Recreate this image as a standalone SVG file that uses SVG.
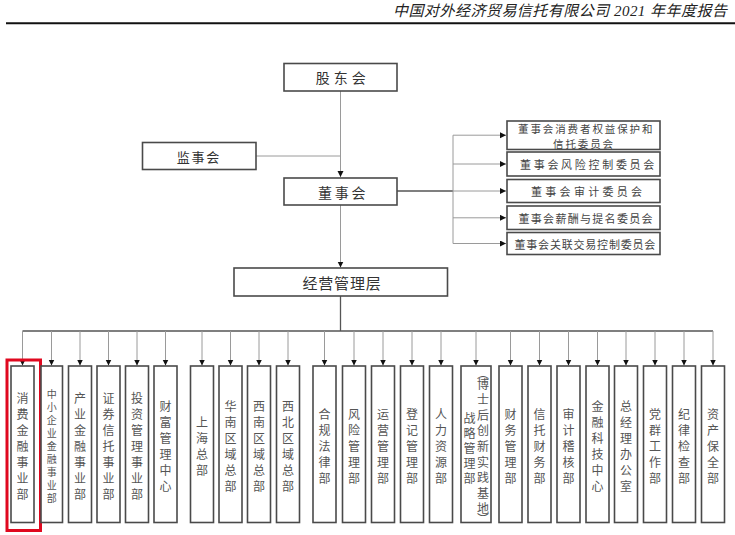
<svg xmlns="http://www.w3.org/2000/svg" width="735" height="535" viewBox="0 0 735 535">
<style>
.bx{fill:#fff;stroke:#4a4a4a;stroke-width:1.6}
.t{font-family:"Noto Sans CJK SC","Noto Sans",sans-serif;fill:#333}
.top{font-size:14px}
.cm{font-size:11px;fill:#444}
.v{font-size:12px;fill:#555;text-anchor:middle;dominant-baseline:central}
.c{fill:none;stroke:#9a9a9a;stroke-width:1}
.cd{fill:none;stroke:#555;stroke-width:1.3}
</style>
<defs>
<marker id="ah" markerUnits="userSpaceOnUse" markerWidth="7" markerHeight="7" refX="6" refY="3" orient="auto">
<path d="M0,0 L6,3 L0,6 z" fill="#111"/>
</marker>
</defs>
<rect width="735" height="535" fill="#fff"/>
<g id="header">
<text x="727" y="15.5" text-anchor="end" font-family="Liberation Serif,'Noto Sans CJK SC',serif" font-style="italic" font-size="15" fill="#222" textLength="334" lengthAdjust="spacing">中国对外经济贸易信托有限公司 2021 年年度报告</text>
<line x1="6" y1="23.3" x2="735" y2="23.3" stroke="#111" stroke-width="2"/>
</g>
<g id="connectors">
<line class="c" x1="340.5" y1="91" x2="340.5" y2="177" marker-end="url(#ah)"/>
<line class="c" x1="256" y1="156" x2="340.5" y2="156"/>
<line class="c" x1="340.5" y1="205" x2="340.5" y2="267.5" marker-end="url(#ah)"/>
<line class="cd" x1="397" y1="191" x2="453" y2="191"/>
<line class="c" x1="453" y1="135.2" x2="453" y2="243.5"/>
<line class="c" x1="453" y1="135.2" x2="506" y2="135.2" marker-end="url(#ah)"/>
<line class="c" x1="453" y1="164" x2="506" y2="164" marker-end="url(#ah)"/>
<line class="c" x1="453" y1="191" x2="506" y2="191" marker-end="url(#ah)"/>
<line class="c" x1="453" y1="217.8" x2="506" y2="217.8" marker-end="url(#ah)"/>
<line class="c" x1="453" y1="243.5" x2="506" y2="243.5" marker-end="url(#ah)"/>
<line class="cd" x1="340.5" y1="296" x2="340.5" y2="331"/>
<line class="cd" x1="22.5" y1="331" x2="713" y2="331"/>
<g id="drops">
<line class="c" x1="22.5" y1="331" x2="22.5" y2="365.5" marker-end="url(#ah)"/>
<line class="c" x1="51.5" y1="331" x2="51.5" y2="365.5" marker-end="url(#ah)"/>
<line class="c" x1="80" y1="331" x2="80" y2="365.5" marker-end="url(#ah)"/>
<line class="c" x1="108.5" y1="331" x2="108.5" y2="365.5" marker-end="url(#ah)"/>
<line class="c" x1="137" y1="331" x2="137" y2="365.5" marker-end="url(#ah)"/>
<line class="c" x1="165.5" y1="331" x2="165.5" y2="365.5" marker-end="url(#ah)"/>
<line class="c" x1="202" y1="331" x2="202" y2="365.5" marker-end="url(#ah)"/>
<line class="c" x1="230.5" y1="331" x2="230.5" y2="365.5" marker-end="url(#ah)"/>
<line class="c" x1="259" y1="331" x2="259" y2="365.5" marker-end="url(#ah)"/>
<line class="c" x1="288" y1="331" x2="288" y2="365.5" marker-end="url(#ah)"/>
<line class="c" x1="324.5" y1="331" x2="324.5" y2="365.5" marker-end="url(#ah)"/>
<line class="c" x1="354" y1="331" x2="354" y2="365.5" marker-end="url(#ah)"/>
<line class="c" x1="383" y1="331" x2="383" y2="365.5" marker-end="url(#ah)"/>
<line class="c" x1="412" y1="331" x2="412" y2="365.5" marker-end="url(#ah)"/>
<line class="c" x1="441" y1="331" x2="441" y2="365.5" marker-end="url(#ah)"/>
<line class="c" x1="476" y1="331" x2="476" y2="365.5" marker-end="url(#ah)"/>
<line class="c" x1="510.5" y1="331" x2="510.5" y2="365.5" marker-end="url(#ah)"/>
<line class="c" x1="539.5" y1="331" x2="539.5" y2="365.5" marker-end="url(#ah)"/>
<line class="c" x1="568.5" y1="331" x2="568.5" y2="365.5" marker-end="url(#ah)"/>
<line class="c" x1="597.5" y1="331" x2="597.5" y2="365.5" marker-end="url(#ah)"/>
<line class="c" x1="626" y1="331" x2="626" y2="365.5" marker-end="url(#ah)"/>
<line class="c" x1="655" y1="331" x2="655" y2="365.5" marker-end="url(#ah)"/>
<line class="c" x1="684" y1="331" x2="684" y2="365.5" marker-end="url(#ah)"/>
<line class="c" x1="713" y1="331" x2="713" y2="365.5" marker-end="url(#ah)"/>
</g>
</g>
<g id="gudonghui"><rect class="bx" x="284" y="63.5" width="113" height="27.5"/><text class="t top" x="315.7" y="77" dominant-baseline="central" letter-spacing="4">股东会</text></g>
<g id="jianshihui"><rect class="bx" x="142.5" y="142.5" width="113.5" height="27"/><text class="t" font-size="13" x="176.8" y="156" dominant-baseline="central" letter-spacing="1.7">监事会</text></g>
<g id="dongshihui"><rect class="bx" x="284" y="178" width="113" height="27"/><text class="t top" x="318" y="191.5" dominant-baseline="central" letter-spacing="2.7">董事会</text></g>
<g id="com1"><rect class="bx" x="507" y="121" width="153" height="28.5"/><text class="t cm" style="font-size:10.5px" x="518" y="128" dominant-baseline="central" letter-spacing="1.9">董事会消费者权益保护和</text><text class="t cm" style="font-size:10.5px" x="553" y="143" dominant-baseline="central" letter-spacing="1.9">信托委员会</text></g>
<g id="com2"><rect class="bx" x="507" y="152" width="153" height="24"/><text class="t cm" x="520" y="164" dominant-baseline="central" letter-spacing="2.7">董事会风险控制委员会</text></g>
<g id="com3"><rect class="bx" x="507" y="179.5" width="153" height="23"/><text class="t cm" x="531" y="191" dominant-baseline="central" letter-spacing="3.3">董事会审计委员会</text></g>
<g id="com4"><rect class="bx" x="507" y="206" width="153" height="23.5"/><text class="t cm" x="518.5" y="218" dominant-baseline="central" letter-spacing="1.3">董事会薪酬与提名委员会</text></g>
<g id="com5"><rect class="bx" x="507" y="232.5" width="153" height="22"/><text class="t cm" x="514.5" y="243.5" dominant-baseline="central" letter-spacing="0.8">董事会关联交易控制委员会</text></g>
<g id="jingying"><rect class="bx" x="234" y="268" width="213.5" height="28"/><text class="t" font-size="15" x="302.5" y="282" dominant-baseline="central" letter-spacing="0.8">经营管理层</text></g>
<g id="d1"><rect class="bx" x="11" y="366" width="23" height="156.5"/><text class="t v" x="22.5 22.5 22.5 22.5 22.5 22.5 22.5" y="397 413 429 445 461 477 493">消费金融事业部</text></g>
<g id="highlight"><rect x="7" y="360" width="33.5" height="170.5" fill="none" stroke="#e0081f" stroke-width="3"/></g>
<g id="d2"><rect class="bx" x="41" y="366" width="21.5" height="156.5"/><text class="t v" style="font-size:10px" x="51.7 51.7 51.7 51.7 51.7 51.7 51.7 51.7 51.7" y="393 406 419 432 445 458 471 484 497">中小企业金融事业部</text></g>
<g id="d3"><rect class="bx" x="68.5" y="366" width="23" height="156.5"/><text class="t v" x="80 80 80 80 80 80 80" y="397 413 429 445 461 477 493">产业金融事业部</text></g>
<g id="d4"><rect class="bx" x="97" y="366" width="23" height="156.5"/><text class="t v" x="108.5 108.5 108.5 108.5 108.5 108.5 108.5" y="397 413 429 445 461 477 493">证券信托事业部</text></g>
<g id="d5"><rect class="bx" x="125.5" y="366" width="23" height="156.5"/><text class="t v" x="137 137 137 137 137 137 137" y="397 413 429 445 461 477 493">投资管理事业部</text></g>
<g id="d6"><rect class="bx" x="154" y="366" width="23" height="156.5"/><text class="t v" x="165.5 165.5 165.5 165.5 165.5 165.5" y="405 421 437 453 469 485">财富管理中心</text></g>
<g id="d7"><rect class="bx" x="190.5" y="366" width="23" height="156.5"/><text class="t v" x="202 202 202 202" y="421 437 453 469">上海总部</text></g>
<g id="d8"><rect class="bx" x="219" y="366" width="23" height="156.5"/><text class="t v" x="230.5 230.5 230.5 230.5 230.5 230.5" y="405 421 437 453 469 485">华南区域总部</text></g>
<g id="d9"><rect class="bx" x="247.5" y="366" width="23" height="156.5"/><text class="t v" x="259 259 259 259 259 259" y="405 421 437 453 469 485">西南区域总部</text></g>
<g id="d10"><rect class="bx" x="276.5" y="366" width="23" height="156.5"/><text class="t v" x="288 288 288 288 288 288" y="405 421 437 453 469 485">西北区域总部</text></g>
<g id="d11"><rect class="bx" x="313" y="366" width="23" height="156.5"/><text class="t v" x="324.5 324.5 324.5 324.5 324.5" y="413 429 445 461 477">合规法律部</text></g>
<g id="d12"><rect class="bx" x="342.5" y="366" width="23" height="156.5"/><text class="t v" x="354 354 354 354 354" y="413 429 445 461 477">风险管理部</text></g>
<g id="d13"><rect class="bx" x="371.5" y="366" width="23" height="156.5"/><text class="t v" x="383 383 383 383 383" y="413 429 445 461 477">运营管理部</text></g>
<g id="d14"><rect class="bx" x="400.5" y="366" width="23" height="156.5"/><text class="t v" x="412 412 412 412 412" y="413 429 445 461 477">登记管理部</text></g>
<g id="d15"><rect class="bx" x="429.5" y="366" width="23" height="156.5"/><text class="t v" x="441 441 441 441 441" y="413 429 445 461 477">人力资源部</text></g>
<g id="d16"><rect class="bx" x="461" y="366" width="30" height="156.5"/><text class="t v" x="469.5 469.5 469.5 469.5 469.5" y="417 432 447 462 477">战略管理部</text><text class="t v" x="483 483 483 483 483 483 483 483 483 483 483" y="372 383 398.6 414.2 429.8 445.4 461 476.6 492.2 507.8 518">︵博士后创新实践基地︶</text></g>
<g id="d17"><rect class="bx" x="499" y="366" width="23" height="156.5"/><text class="t v" x="510.5 510.5 510.5 510.5 510.5" y="413 429 445 461 477">财务管理部</text></g>
<g id="d18"><rect class="bx" x="528" y="366" width="23" height="156.5"/><text class="t v" x="539.5 539.5 539.5 539.5 539.5" y="413 429 445 461 477">信托财务部</text></g>
<g id="d19"><rect class="bx" x="557" y="366" width="23" height="156.5"/><text class="t v" x="568.5 568.5 568.5 568.5 568.5" y="413 429 445 461 477">审计稽核部</text></g>
<g id="d20"><rect class="bx" x="586" y="366" width="23" height="156.5"/><text class="t v" x="597.5 597.5 597.5 597.5 597.5 597.5" y="405 421 437 453 469 485">金融科技中心</text></g>
<g id="d21"><rect class="bx" x="614.5" y="366" width="23" height="156.5"/><text class="t v" x="626 626 626 626 626 626" y="405 421 437 453 469 485">总经理办公室</text></g>
<g id="d22"><rect class="bx" x="643.5" y="366" width="23" height="156.5"/><text class="t v" x="655 655 655 655 655" y="413 429 445 461 477">党群工作部</text></g>
<g id="d23"><rect class="bx" x="672.5" y="366" width="23" height="156.5"/><text class="t v" x="684 684 684 684 684" y="413 429 445 461 477">纪律检查部</text></g>
<g id="d24"><rect class="bx" x="701.5" y="366" width="23" height="156.5"/><text class="t v" x="713 713 713 713 713" y="413 429 445 461 477">资产保全部</text></g>
</svg>
